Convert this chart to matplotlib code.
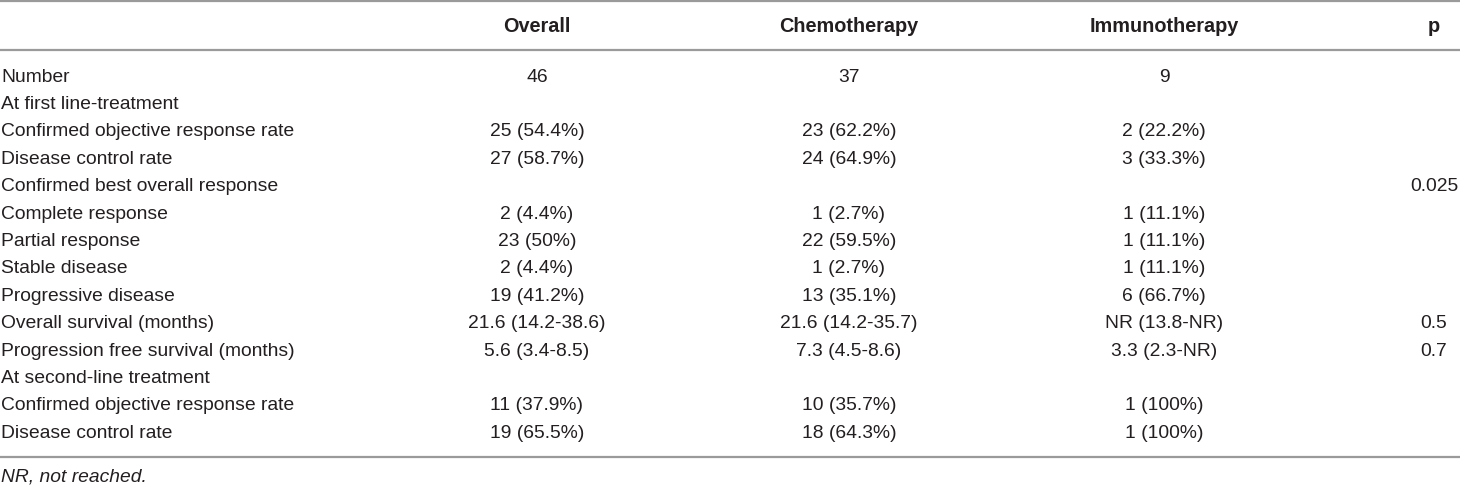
import matplotlib
matplotlib.use("Agg")
import matplotlib.pyplot as plt

headers = ["Overall", "Chemotherapy", "Immunotherapy", "p"]
row_labels = [
    "Number",
    "At first line-treatment",
    "Confirmed objective response rate",
    "Disease control rate",
    "Confirmed best overall response",
    "Complete response",
    "Partial response",
    "Stable disease",
    "Progressive disease",
    "Overall survival (months)",
    "Progression free survival (months)",
    "At second-line treatment",
    "Confirmed objective response rate",
    "Disease control rate",
]
overall = ["46", "", "25 (54.4%)", "27 (58.7%)", "", "2 (4.4%)", "23 (50%)", "2 (4.4%)",
           "19 (41.2%)", "21.6 (14.2-38.6)", "5.6 (3.4-8.5)", "", "11 (37.9%)", "19 (65.5%)"]
chemo = ["37", "", "23 (62.2%)", "24 (64.9%)", "", "1 (2.7%)", "22 (59.5%)", "1 (2.7%)",
         "13 (35.1%)", "21.6 (14.2-35.7)", "7.3 (4.5-8.6)", "", "10 (35.7%)", "18 (64.3%)"]
immuno = ["9", "", "2 (22.2%)", "3 (33.3%)", "", "1 (11.1%)", "1 (11.1%)", "1 (11.1%)",
          "6 (66.7%)", "NR (13.8-NR)", "3.3 (2.3-NR)", "", "1 (100%)", "1 (100%)"]
pvals = ["", "", "", "", "0.025", "", "", "", "", "0.5", "0.7", "", "", ""]
footnote = "NR, not reached."

W, H = 1460, 486
plt.rcParams["font.family"] = ["Liberation Sans", "DejaVu Sans"]
fig = plt.figure(figsize=(W / 100, H / 100), dpi=100)
ax = fig.add_axes([0, 0, 1, 1])
ax.set_xlim(0, W)
ax.set_ylim(H, 0)
ax.axis("off")

fs = 13.9
fsb = 14.3
color = "#231f20"
linec = "#9a9a9a"

for y in (1.0, 50.5, 456.5):
    ax.plot([0, W], [y, y], color=linec, lw=1.6, solid_capstyle="butt")

col_x = [537, 849, 1164, 1434]
for cx, h in zip(col_x, headers):
    ax.text(cx, 27, h, ha="center", va="center", fontsize=fsb, fontweight="bold", color=color)

y0 = 77
dy = 27.4
for i, lab in enumerate(row_labels):
    y = y0 + i * dy
    ax.text(1, y, lab, ha="left", va="center", fontsize=fs, color=color)
    for cx, col in zip(col_x, (overall, chemo, immuno, pvals)):
        if col[i]:
            ax.text(cx, y, col[i], ha="center", va="center", fontsize=fs, color=color)

ax.text(1, 477, footnote, ha="left", va="center", fontsize=fs, style="italic", color=color)

fig.savefig("out.png", dpi=100)
